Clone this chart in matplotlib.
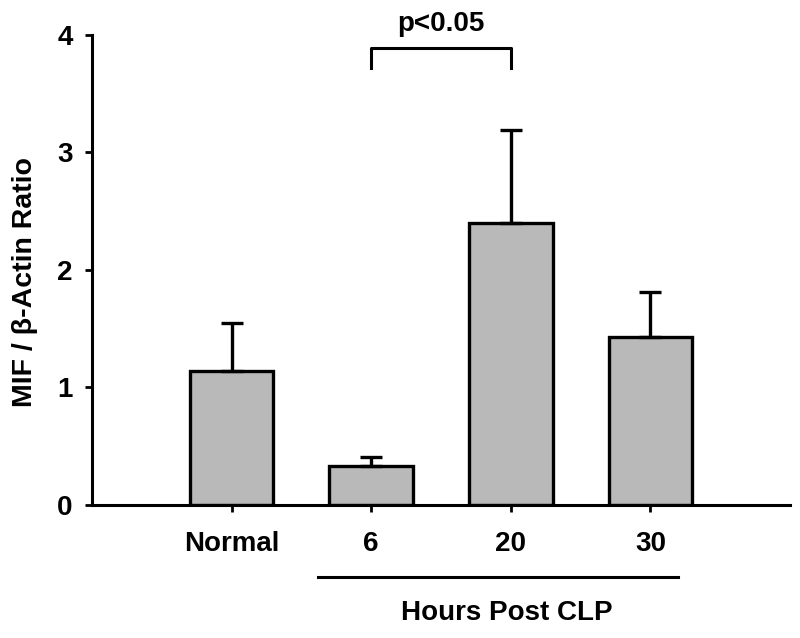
import matplotlib
matplotlib.use('Agg')
import matplotlib.pyplot as plt
import matplotlib.transforms as mtransforms

# values
groups = ['Normal', '6', '20', '30']
ratio = [1.14, 0.335, 2.40, 1.43]
err_top = [1.55, 0.41, 3.19, 1.81]
yerr = [t - v for t, v in zip(err_top, ratio)]

plt.rcParams['font.family'] = ['Liberation Sans', 'DejaVu Sans']
plt.rcParams['font.weight'] = 'bold'

fig = plt.figure(figsize=(8, 6.38), dpi=100)
ax = fig.add_axes([0.115, 0.2085, 0.8725, 0.7367])

x = [1, 2, 3, 4]
ax.bar(x, ratio, width=0.6, color='#b9b9b9', edgecolor='black', linewidth=2.4,
       zorder=2)
ax.errorbar(x, ratio, yerr=[[0] * 4, yerr], fmt='none', ecolor='black',
            elinewidth=2.4, capsize=8, capthick=2.4, zorder=3)

ax.set_xlim(0, 5)
ax.set_ylim(0, 4)
ax.set_yticks([0, 1, 2, 3, 4])
ax.set_xticks(x)
ax.set_xticklabels(groups)

for s in ['top', 'right']:
    ax.spines[s].set_visible(False)
for s in ['left', 'bottom']:
    ax.spines[s].set_linewidth(2.2)

ax.tick_params(axis='y', length=5, width=2, pad=9, labelsize=20)
ax.tick_params(axis='x', length=5, width=2, pad=14, labelsize=20)

fig.text(25 / 800, 1 - 282 / 638, 'MIF / β-Actin Ratio', rotation=90,
         ha='center', va='center', fontsize=20.5, fontweight='bold')

# significance bracket between 6 h and 20 h
ax.plot([2, 2, 3, 3], [3.72, 3.89, 3.89, 3.72], color='black', lw=2.2,
        clip_on=False)
ax.text(2.5, 3.98, 'p<0.05', ha='center', va='bottom', fontsize=20,
        fontweight='bold')

# "Hours Post CLP" group label under the time points
trans = mtransforms.blended_transform_factory(ax.transData, ax.transAxes)
ax.plot([1.62, 4.20], [-0.153, -0.153], color='black', lw=2.2,
        transform=trans, clip_on=False)
ax.text(2.97, -0.230, 'Hours Post CLP', transform=trans, ha='center',
        va='center', fontsize=20, fontweight='bold')

fig.savefig('out.png', dpi=100)
